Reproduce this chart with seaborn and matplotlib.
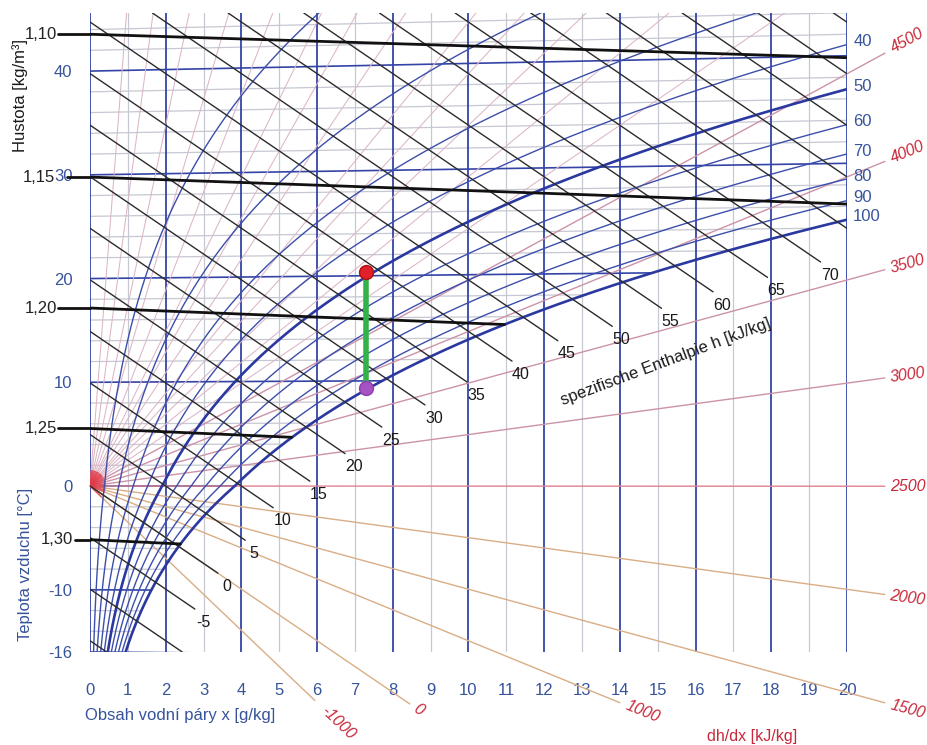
import numpy as np
import pandas as pd
import matplotlib
matplotlib.use("Agg")
import matplotlib.pyplot as plt
import seaborn as sns

# Mollier h-x diagram, p = 1000 hPa
P = 1000.0

x_ticks = list(range(0, 21))
t_major = [-16, -10, 0, 10, 20, 30, 40]
t_minor = list(range(-16, 46, 2))

rh_values = [10, 20, 30, 40, 50, 60, 70, 80, 90, 100]
rh_bold = [50, 100]
rh_labels = [40, 50, 60, 70, 80, 90, 100]

h_labeled = [-5, 0, 5, 10, 15, 20, 25, 30, 35, 40, 45, 50, 55, 60, 65, 70]
h_end_x = [2.77, 3.38, 4.10, 4.84, 5.81, 6.74, 7.71, 8.85, 9.96, 11.15,
           12.36, 13.80, 15.10, 16.46, 17.90, 19.30]
h_extra = [-15, -10, 75, 80, 85, 90, 95]

rho_values = [1.10, 1.15, 1.20, 1.25, 1.30]
rho_labels = ["1,10", "1,15", "1,20", "1,25", "1,30"]

dhdx_labeled = [4500, 4000, 3500, 3000, 2500, 2000, 1500, 1000, 0, -1000]
dhdx_end_x = [21.0, 21.0, 21.0, 21.0, 21.0, 21.0, 21.0, 14.0, 8.45, 5.94]
dhdx_label_x = [21.6, 21.6, 21.6, 21.6, 21.6, 21.6, 21.6, 14.6, 8.67, 6.55]
dhdx_extra = [5000, 5500, 6000, 6500, 7000, 8000, 9000, 10000, 12000, 15000, 20000, 30000, 50000]

process_x = 7.3
process_t = [20.4, 9.3]

# layout (data units left of the frame)
rho_line_start = [-0.85, -0.62, -0.85, -0.85, -0.40]
rho_text_x = [-0.88, -0.92, -0.88, -0.88, -0.44]

BLUE = "#3444a6"
BLUE_TXT = "#36539b"
GRAY = "#c6c8d2"
RED_TXT = "#c8283a"
TOP = 45.6


def psat(t):
    t = np.asarray(t, dtype=float)
    return np.where(t >= 0, 6.112 * np.exp(17.62 * t / (243.12 + t)),
                    6.112 * np.exp(22.46 * t / (272.62 + t)))


def xsat(t, phi=1.0):
    pv = phi * psat(t)
    return 622.0 * pv / (P - pv)


def chart_y(t, x):
    return t * (1 + 0.00186 * x / 1.006)


def h_y(h, x):
    return (h - 2.501 * x) / 1.006


sns.set_style("white")
plt.rcParams['font.family'] = ['Liberation Sans', 'DejaVu Sans']
plt.rcParams['axes.unicode_minus'] = False

fig = plt.figure(figsize=(9.28, 7.45), dpi=100)
ax = fig.add_axes([90 / 928, 93 / 745, 757 / 928, 639 / 745])
ax.set_xlim(0, 20)
ax.set_ylim(-16, TOP)

# vertical x lines
for xv in x_ticks:
    if xv % 2 == 0:
        ax.axvline(xv, color=BLUE, lw=1.3, zorder=2)
    else:
        ax.axvline(xv, color=GRAY, lw=0.9, zorder=1)

# isotherms (end at the saturation curve)
for t in t_minor:
    xe = min(20.0, float(xsat(t)))
    col, lw, z = (BLUE, 1.2, 2) if t in t_major else (GRAY, 0.9, 1)
    if t == -16:
        xe = 20.0
    ax.plot([0, xe], [chart_y(t, 0), chart_y(t, xe)], color=col, lw=lw, zorder=z)


def fan_angle(s):
    p1 = ax.transData.transform((0, 0))
    p2 = ax.transData.transform((1, s))
    return np.arctan2(p2[1] - p1[1], p2[0] - p1[0])


# direction scale dh/dx
for q, xe, xl in zip(dhdx_labeled, dhdx_end_x, dhdx_label_x):
    s = (q - 2501) / 1006
    if q > 2500:
        col = "#cc93a8"
    elif q == 2500:
        col = "#e0828f"
    else:
        col = "#d9ae86"
    ax.plot([0, xe], [0, s * xe], color=col, lw=1.0, zorder=2.5, clip_on=False)
    ang = np.degrees(fan_angle(s))
    ax.text(xl, s * xl, str(q), rotation=ang, rotation_mode='anchor', ha='center',
            va='center', color=RED_TXT, fontsize=11.5, style='italic', clip_on=False)

for q in dhdx_extra:
    s = (q - 2501) / 1006
    xe = min(20.0, TOP / s)
    ax.plot([0, xe], [0, s * xe], color="#dcb6c6", lw=0.75, zorder=2.4)

# red hub of the direction fan
for q in dhdx_labeled + dhdx_extra:
    s = (q - 2501) / 1006
    a = fan_angle(s)
    xr = 16 * np.cos(a) / 37.85
    ax.plot([0, xr], [0, s * xr], color="#e23a48", lw=1.0, alpha=0.75, zorder=2.6,
            solid_capstyle='butt')

# relative humidity curves
rows = []
tt = np.arange(-16, 60, 0.1)
for phi in rh_values:
    xx = xsat(tt, phi / 100)
    yy = chart_y(tt, xx)
    m = (xx <= 20.5) & (yy <= TOP + 2)
    rows.append(pd.DataFrame({"x": xx[m], "y": yy[m], "phi": phi}))
rh = pd.concat(rows)
sns.lineplot(data=rh[~rh.phi.isin(rh_bold)], x="x", y="y", units="phi", estimator=None,
             sort=False, color="#3c4eab", lw=1.0, ax=ax, legend=False, zorder=3)
sns.lineplot(data=rh[rh.phi.isin(rh_bold)], x="x", y="y", units="phi", estimator=None,
             sort=False, color="#2a38a0", lw=1.9, ax=ax, legend=False, zorder=3)

for phi in rh_labels:
    pv = 20 * P / (622 + 20)
    L = np.log(pv / (phi / 100) / 6.112)
    t20 = 243.12 * L / (17.62 - L)
    ax.annotate(str(phi), (20, chart_y(t20, 20)), xytext=(4.5, 2), textcoords='offset points',
                ha='left', va='center', color=BLUE_TXT, fontsize=12, annotation_clip=False)

# isenthalps
hrows = []
for h, xe in zip(h_labeled, h_end_x):
    xs = max(0.0, (h / 1.006 - TOP) * 1.006 / 2.501)
    hrows.append(pd.DataFrame({"x": [xs, xe], "y": [h_y(h, xs), h_y(h, xe)], "h": h}))
for h in h_extra:
    xs = max(0.0, (h / 1.006 - TOP) * 1.006 / 2.501)
    xe = min(20.0, (h / 1.006 + 16) * 1.006 / 2.501)
    hrows.append(pd.DataFrame({"x": [xs, xe], "y": [h_y(h, xs), h_y(h, xe)], "h": h}))
hd = pd.concat(hrows)
sns.lineplot(data=hd, x="x", y="y", units="h", estimator=None, sort=False,
             color="#2b2b2b", lw=1.0, ax=ax, legend=False, zorder=3.5)
for h, xe in zip(h_labeled, h_end_x):
    ax.annotate(str(h), (xe, h_y(h, xe)), xytext=(6.5, -9.5), textcoords='offset points',
                ha='center', va='center', color="#1a1a1a", fontsize=11.5)

# density lines
xg = np.arange(0, 20.001, 0.01)
for rho, lab, x0, xt in zip(rho_values, rho_labels, rho_line_start, rho_text_x):
    T = P * 100 * (1 + xg / 1000) / (287.05 * rho * (1 + 1.608 * xg / 1000))
    t = T - 273.15
    ok = xg <= xsat(t)
    n = np.argmin(ok) if not ok.all() else len(xg)
    yy = chart_y(t[:n], xg[:n])
    ax.plot(xg[:n], yy, color="#111111", lw=2.0, zorder=4)
    ax.plot([x0, 0], [yy[0], yy[0]], color="#111111", lw=2.0, zorder=4, clip_on=False)
    ax.text(xt, yy[0], lab, ha='right', va='center', color="#222222", fontsize=12, clip_on=False)

# process: cooling to the dew point
py = [chart_y(t, process_x) for t in process_t]
ax.plot([process_x, process_x], py, color="#33b24a", lw=4, zorder=6, solid_capstyle='butt')
ax.plot(process_x, py[0], 'o', ms=10, color="#e0202a", mec="#b01010", zorder=7)
ax.plot(process_x, py[1], 'o', ms=10, color="#a552c2", mec="#8a40a8", zorder=7)

ax.text(15.2, 12.0, "spezifische Enthalpie h [kJ/kg]", rotation=20.5, ha='center',
        va='center', fontsize=12, color="#1a1a1a")

# axes
for sp in ax.spines.values():
    sp.set_visible(False)
ax.set_xticks(x_ticks)
ax.set_xticks(np.arange(0, 20.01, 0.2), minor=True)
ax.set_yticks(t_major)
ax.tick_params(axis='x', which='major', length=6, width=1.0, color=BLUE, pad=16,
               labelsize=12, labelcolor=BLUE_TXT)
ax.tick_params(axis='x', which='minor', direction='in', length=3, width=0.6, color=BLUE)
ax.tick_params(axis='y', length=7.2, width=1.0, color=BLUE, pad=5.5,
               labelsize=12, labelcolor=BLUE_TXT)
ax.set_xlabel("")
ax.set_ylabel("")

fig.text(0.0216, 0.872, "Hustota [kg/m³]", rotation=90, ha='center', va='center',
         fontsize=12, color="#1a1a1a")
fig.text(0.027, 0.242, "Teplota vzduchu [°C]", rotation=90, ha='center', va='center',
         fontsize=12, color=BLUE_TXT)
fig.text(0.0916, 0.040, "Obsah vodní páry x [g/kg]", ha='left', va='center',
         fontsize=12, color=BLUE_TXT)
fig.text(0.810, 0.011, "dh/dx [kJ/kg]", ha='center', va='center', fontsize=11.5,
         color=RED_TXT)

fig.savefig("out.png", dpi=100)
